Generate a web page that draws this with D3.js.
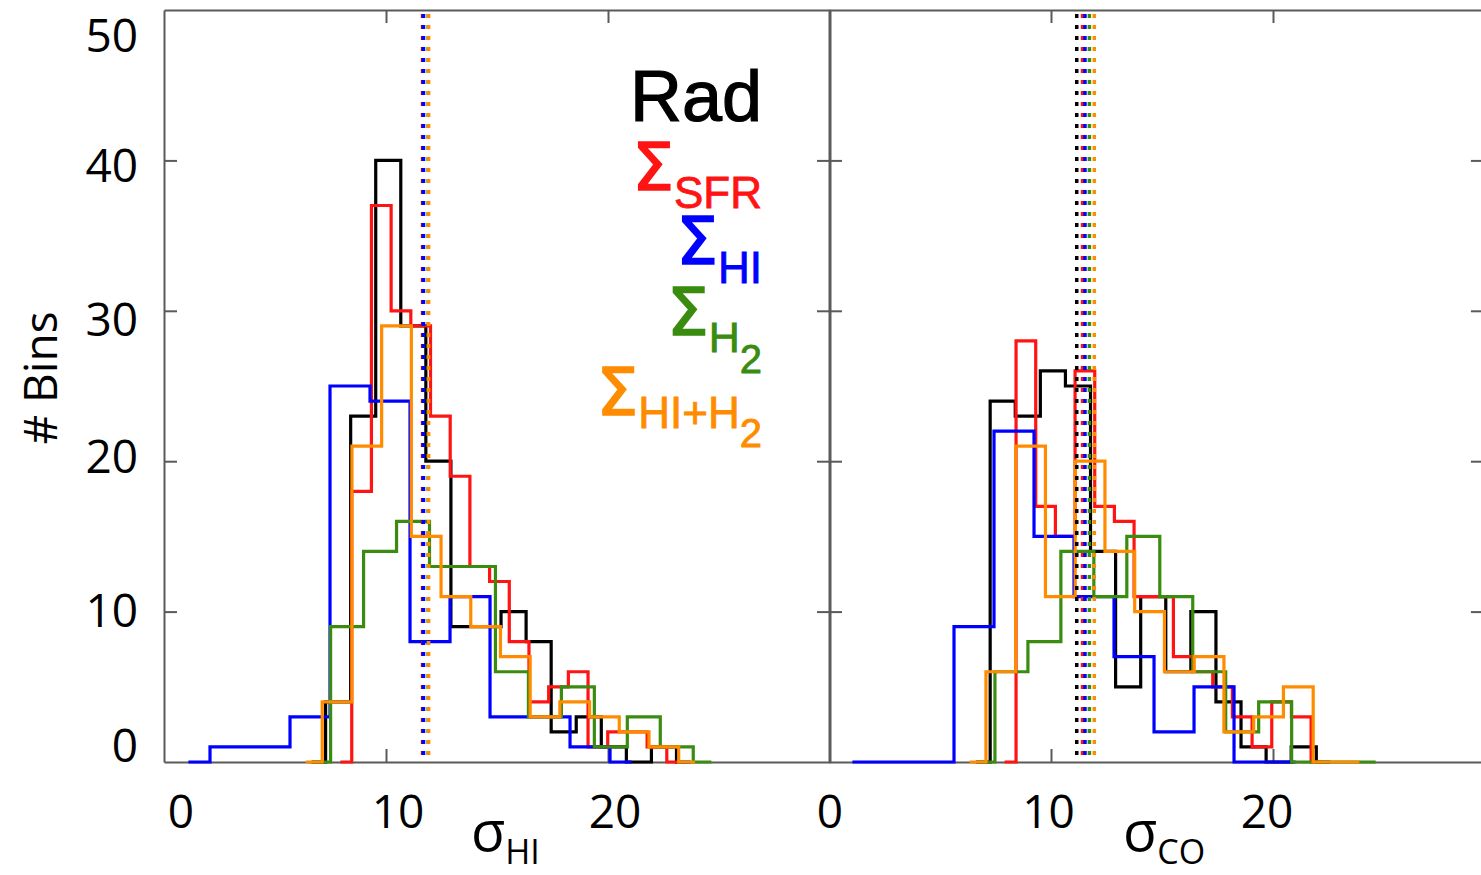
<!DOCTYPE html>
<html><head><meta charset="utf-8">
<script src="https://cdn.jsdelivr.net/npm/d3@7"></script>
<style>body{margin:0;background:#fff} svg{display:block}</style>
</head><body>
<svg id="c" width="1481" height="875"></svg>
<script>
// ---------------- data ----------------
const seriesNames = ["Rad", "SFR", "HI", "H2", "HI+H2"];
const seriesColors = ["#000000", "#ff1414", "#0000ff", "#3a8c10", "#ff8c00"];

// sigma_HI panel: lower edge of first bin, bin width, counts per bin
const hiBinStart = [6.15, 7.57, 0.27, 6.02, 5.79];
const hiBinWidth = [1.129, 0.887, 1.802, 1.485, 1.338];
const hiCountsRad  = [0, 4, 23, 40, 29, 20, 9, 9, 10, 8, 2, 3, 1, 0, 1, 0];
const hiCountsSFR  = [0, 18, 37, 30, 29, 23, 19, 13, 12, 8, 4, 5, 6, 1, 2, 2, 1, 0];
const hiCountsHI   = [0, 1, 1, 3, 25, 24, 8, 11, 3, 3, 1, 0];
const hiCountsH2   = [0, 9, 14, 16, 13, 13, 6, 3, 5, 1, 3, 1, 0];
const hiCountsHIH2 = [0, 4, 21, 29, 15, 11, 9, 7, 3, 4, 3, 2, 1, 0];
const hiMeans = [11.65, 11.67, 11.69, 11.90, 11.92];

// sigma_CO panel
const coBinStart = [6.13, 7.54, 0.225, 5.99, 5.73];
const coBinWidth = [1.13, 0.886, 1.802, 1.485, 1.34];
const coCountsRad  = [0, 24, 23, 26, 25, 14, 5, 11, 6, 10, 4, 1, 0, 1, 0];
const coCountsSFR  = [0, 28, 17, 15, 26, 17, 16, 11, 11, 7, 6, 5, 3, 1, 4, 3, 0];
const coCountsHI   = [0, 0, 0, 9, 22, 15, 11, 7, 2, 5, 0, 0];
const coCountsH2   = [0, 6, 8, 14, 11, 15, 11, 6, 2, 4, 0, 0, 0];
const coCountsHIH2 = [0, 6, 21, 11, 20, 14, 10, 6, 7, 2, 3, 5, 0, 0];
const coMeans = [11.16, 11.42, 11.53, 11.73, 11.95];

const yTickValues = [0, 10, 20, 30, 40, 50];
const xTickValues = [0, 10, 20];

// ---------------- layout ----------------
const svg = d3.select("#c");
const plotTop = 10, plotBottom = 762;
const y = d3.scaleLinear().domain([0, 50]).range([plotBottom, plotTop]);
const xL = d3.scaleLinear().domain([0, 30]).range([164, 830]);
const xR = d3.scaleLinear().domain([0, 29.5]).range([829, 829 + 29.5 * 22.2]);
// hand-placed tick label positions in the original figure
const xLabL = d3.scaleLinear().domain([0, 20]).range([181, 615]);
const xLabR = d3.scaleLinear().domain([0, 20]).range([830, 1267]);
const yLabelNudge = [-16, -1, -5, 9, 5, 26];

const frameColor = "#5a5a5a";
const tickFont = "'Open Sans', 'Noto Sans', sans-serif";

function drawFrame(x) {
  const g = svg.append("g");
  const [x0, x1] = x.range();
  const inner = [10, 20, 30, 40];
  g.append("g").attr("transform", `translate(${x0},0)`)
    .call(d3.axisLeft(y).tickValues(inner).tickSize(-13).tickSizeOuter(0).tickFormat(""));
  g.append("g").attr("transform", `translate(${x1},0)`)
    .call(d3.axisRight(y).tickValues(inner).tickSize(-13).tickSizeOuter(0).tickFormat(""));
  g.append("g").attr("transform", `translate(0,${plotBottom})`)
    .call(d3.axisBottom(x).tickValues([10, 20]).tickSize(-13).tickSizeOuter(0).tickFormat(""));
  g.append("g").attr("transform", `translate(0,${plotTop})`)
    .call(d3.axisTop(x).tickValues([10, 20]).tickSize(-13).tickSizeOuter(0).tickFormat(""));
  g.selectAll("path.domain").attr("stroke", frameColor).attr("stroke-width", 2);
  g.selectAll(".tick line").attr("stroke", frameColor).attr("stroke-width", 2);
}

function histPoints(start, width, counts) {
  const pts = [];
  const n = counts.length;
  counts.forEach((c, i) => {
    const lo = start + i * width, hi = lo + width, mid = lo + width / 2;
    pts.push([i === 0 ? mid : lo, c]);
    pts.push([i === n - 1 ? mid : hi, c]);
  });
  return pts;
}

function drawPanel(x, starts, widths, countsList, means) {
  const line = d3.line().x(d => x(d[0])).y(d => y(d[1]));
  const g = svg.append("g");
  countsList.forEach((counts, i) => {
    g.append("path")
      .attr("d", line(histPoints(starts[i], widths[i], counts)))
      .attr("fill", "none")
      .attr("stroke", seriesColors[i])
      .attr("stroke-width", 3.2)
      .attr("stroke-linejoin", "miter")
      .attr("stroke-linecap", "square");
  });
  means.forEach((m, i) => {
    g.append("line")
      .attr("x1", x(m)).attr("x2", x(m))
      .attr("y1", plotTop + 4).attr("y2", plotBottom)
      .attr("stroke", seriesColors[i])
      .attr("stroke-width", 3.5)
      .attr("stroke-dasharray", "4 7");
  });
}

drawFrame(xL);
drawFrame(xR);
drawPanel(xL, hiBinStart, hiBinWidth,
  [hiCountsRad, hiCountsSFR, hiCountsHI, hiCountsH2, hiCountsHIH2], hiMeans);
drawPanel(xR, coBinStart, coBinWidth,
  [coCountsRad, coCountsSFR, coCountsHI, coCountsH2, coCountsHIH2], coMeans);

// y tick labels
const tickFs = 46;
svg.append("g").selectAll("text").data(yTickValues).join("text")
  .attr("x", 138)
  .attr("y", (d, i) => y(d) + yLabelNudge[i] + 0.357 * tickFs)
  .attr("text-anchor", "end")
  .attr("font-family", tickFont).attr("font-size", tickFs).attr("fill", "#000")
  .text(d => d);

// x tick labels
[xLabL, xLabR].forEach(s => {
  svg.append("g").selectAll("text").data(xTickValues).join("text")
    .attr("x", d => s(d))
    .attr("y", 828)
    .attr("text-anchor", "middle")
    .attr("font-family", tickFont).attr("font-size", tickFs).attr("fill", "#000")
    .text(d => d);
});

// axis titles
function sigmaTitle(xpos, sub) {
  const t = svg.append("text").attr("x", xpos).attr("y", 851)
    .attr("font-family", tickFont).attr("fill", "#000");
  t.append("tspan").attr("font-size", 56).text("σ");
  t.append("tspan").attr("font-size", 34).attr("dy", 13).text(sub);
}
sigmaTitle(471, "HI");
sigmaTitle(1123, "CO");

svg.append("text")
  .attr("transform", "translate(57,378) rotate(-90)")
  .attr("text-anchor", "middle")
  .attr("font-family", tickFont).attr("font-size", 46).attr("fill", "#000")
  .text("# Bins");

// legend
const legFont = "'Liberation Sans', Arial, Helvetica, sans-serif";
const legX = 762;
svg.append("text").attr("x", legX).attr("y", 121).attr("text-anchor", "end")
  .attr("font-family", legFont).attr("font-size", 72)
  .attr("fill", seriesColors[0]).attr("stroke", seriesColors[0]).attr("stroke-width", 1.2)
  .text(seriesNames[0]);

function sigmaLegend(i, baseY, parts) {
  const t = svg.append("text").attr("x", legX).attr("y", baseY).attr("text-anchor", "end")
    .attr("font-family", legFont).attr("fill", seriesColors[i])
    .attr("stroke", seriesColors[i]).attr("stroke-width", 0.8);
  t.append("tspan").attr("font-family", "'DejaVu Sans', sans-serif")
    .attr("font-size", 66).attr("stroke-width", 1.6).text("Σ");
  parts.forEach(p => t.append("tspan").attr("font-size", p.fs).attr("dy", p.dy).text(p.txt));
}
sigmaLegend(1, 190, [{txt: "SFR", fs: 44, dy: 18}]);
sigmaLegend(2, 264, [{txt: "HI", fs: 44, dy: 19}]);
sigmaLegend(3, 335, [{txt: "H", fs: 43, dy: 17}, {txt: "2", fs: 40, dy: 21}]);
sigmaLegend(4, 415, [{txt: "HI+H", fs: 44, dy: 13}, {txt: "2", fs: 40, dy: 19}]);
</script>
</body></html>
